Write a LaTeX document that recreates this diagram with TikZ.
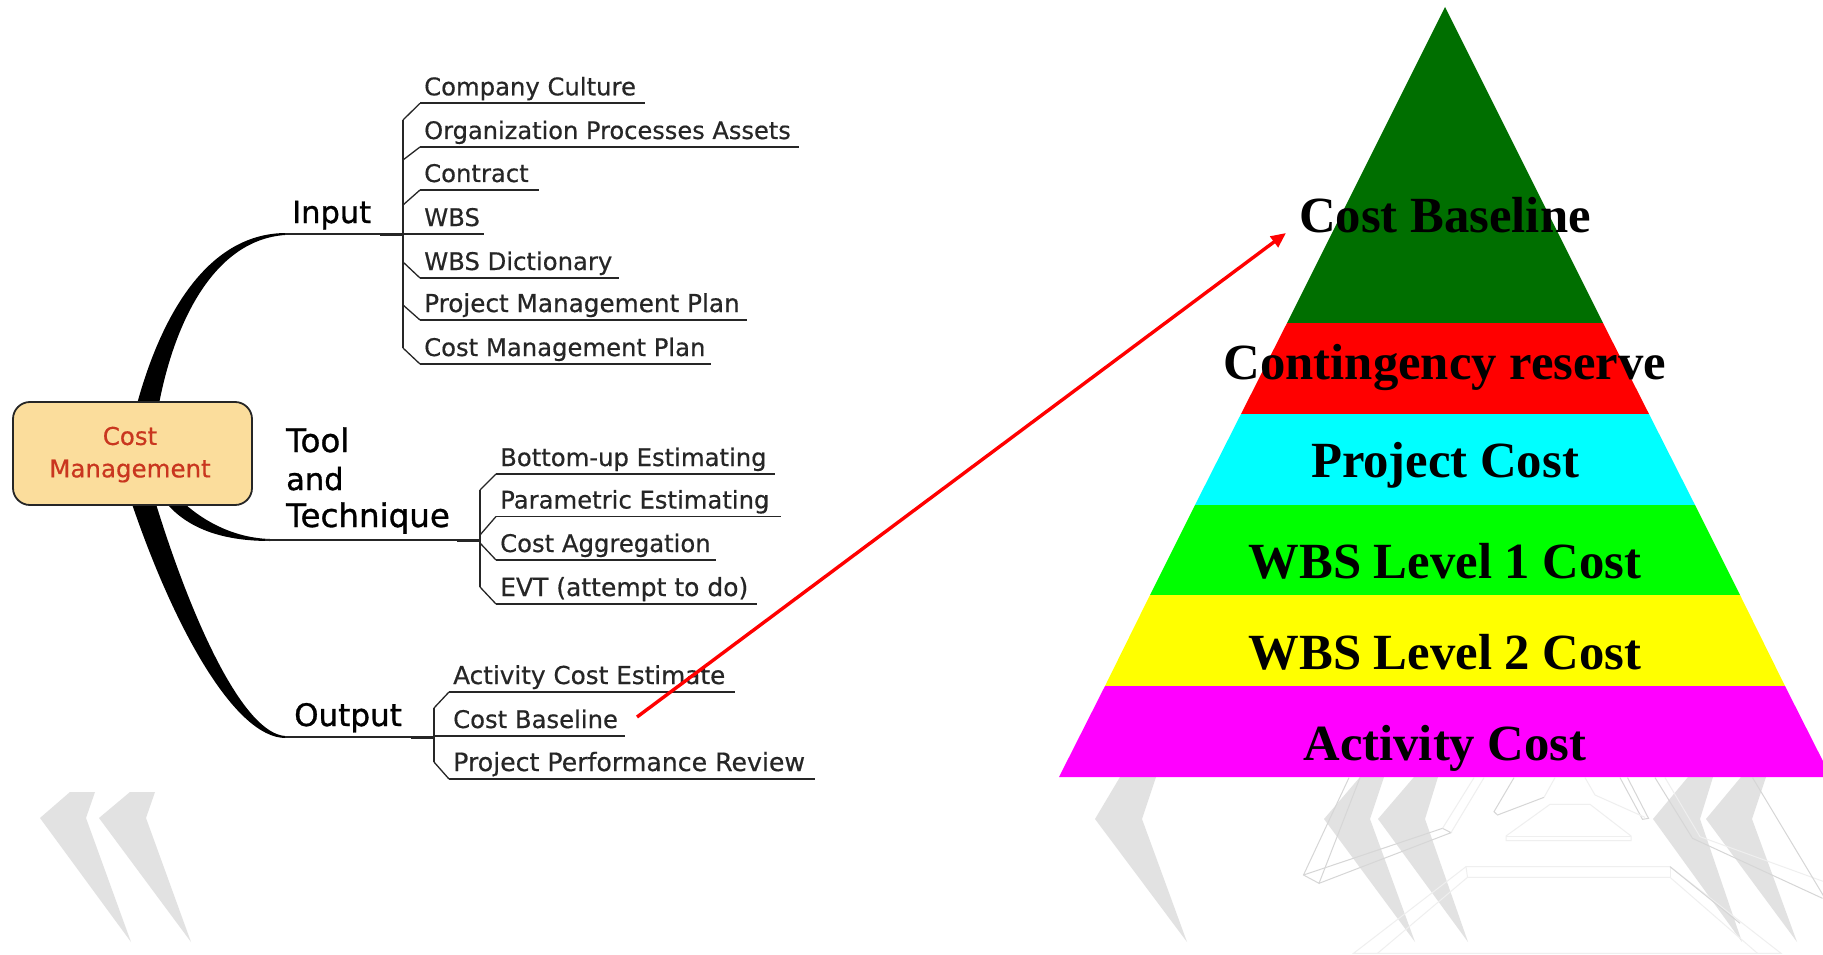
\documentclass[tikz,border=0pt]{standalone}
\usepackage{fontspec}
\setmainfont{DejaVu Sans}
\newfontfamily\semib[FakeBold=0.5]{DejaVu Sans}
\newfontfamily\semibb[FakeBold=1]{DejaVu Sans}
\newfontfamily\timesb[Ligatures=TeX]{Liberation Serif Bold}
\usetikzlibrary{arrows.meta}
\definecolor{inkc}{HTML}{262626}
\definecolor{boxfill}{HTML}{FBDD9C}
\definecolor{boxtext}{HTML}{C9361F}
\definecolor{markgray}{HTML}{E2E2E2}
\definecolor{wire}{HTML}{EFEFEF}
\definecolor{wiredark}{HTML}{D6D6D6}
\definecolor{darkgreen}{HTML}{006F00}
\definecolor{lvred}{RGB}{255,0,0}
\definecolor{lvcyan}{RGB}{0,255,255}
\definecolor{lvgreen}{RGB}{0,255,0}
\definecolor{lvyellow}{RGB}{255,255,0}
\definecolor{lvmagenta}{RGB}{255,0,255}
\tikzset{
  leaf/.style={anchor=base west,inner sep=0pt,text=inkc,font=\fontsize{24.3}{28}\semib},
  branchlabel/.style={anchor=base west,inner sep=0pt,text=black,font=\fontsize{30.5}{34}\semibb},
  uline/.style={draw=inkc,line width=1.8pt},
  spine/.style={draw=inkc,line width=1.3pt},
  heavy/.style={draw=inkc,line width=3pt},
  limb/.style={fill=black,draw=none},
  chev/.style={fill=markgray,draw=none},
  wireline/.style={draw=wire,line width=1pt},
  wiredk/.style={draw=wiredark,line width=1pt},
  level/.style={draw=none},
  levellabel/.style={text=black,inner sep=0pt,font=\fontsize{50.7}{56}\timesb},
  roottext/.style={text=boxtext,inner sep=0pt,font=\fontsize{24.5}{28}\semib},
}
\newcommand{\leafbranch}[7]{%
  \coordinate (#1-s) at (#2,#3);
  \coordinate (#1-a) at (#4,#6);
  \coordinate (#1-b) at (#5,#6);
  \node[leaf] (#1) at ([xshift=4pt,yshift=8pt]#1-a) {#7};
  \draw[uline] (#1-a) -- (#1-b);
  \draw[spine] (#1-s) -- (#1-a);
}
\newcommand{\chevron}[5]{%
  \fill[chev] (#1,819) -- (#2,777) -- (#3,777) -- (#4,819) -- (#5,942) -- cycle;
}
\begin{document}
\begin{tikzpicture}[x=1pt,y=-1pt]
\useasboundingbox (0,0) rectangle (1823,955);
\fill[white] (0,0) rectangle (1823,955);

% watermark chevrons, left
\fill[chev] (40,818) -- (70,792) -- (95,792) -- (86,818) -- (131,942) -- cycle;
\fill[chev] (99,818) -- (130,792) -- (155,792) -- (146,818) -- (191,942) -- cycle;

% watermark chevrons, right
\chevron{1095}{1120}{1156}{1142}{1187}
\chevron{1324}{1360}{1384}{1370}{1415}
\chevron{1378}{1414}{1438}{1425}{1468}
\chevron{1653}{1688}{1713}{1700}{1742}
\chevron{1706}{1741}{1766}{1752}{1797}

% watermark wire figure
\begin{scope}[shift={(1040,740)},x=0.5pt,y=-0.33333pt]
  \draw[wiredk] (640,113) -- (558,430) -- (527,405) -- (618,113);
  \draw[wiredk] (558,430) -- (822,278) -- (805,265) -- (527,405);
  \draw[wireline] (822,278) -- (888,113);
  \draw[wireline] (805,265) -- (868,113);
  \draw[wiredk] (948,113) -- (908,215) -- (915,225) -- (1008,172);
  \draw[wireline] (1008,172) -- (1030,113);
  \draw[wireline] (1020,193) -- (1100,193) -- (1182,288) -- (1182,302) -- (932,302) -- (932,288) -- (1020,193);
  \draw[wireline] (932,288) -- (1182,288);
  \draw[wiredk] (1160,113) -- (1205,238) -- (1217,235) -- (1175,113);
  \draw[wireline] (1090,113) -- (1110,165) -- (1210,232);
  \draw[wiredk] (1230,113) -- (1305,295) -- (1565,475);
  \draw[wireline] (1250,113) -- (1320,290) -- (1568,425);
  \draw[wiredk] (1425,113) -- (1568,470);
  \draw[wireline] (627,640) -- (852,380) -- (1260,380) -- (1482,640) -- cycle;
  \draw[wireline] (675,640) -- (855,412) -- (1260,412) -- (1435,640);
  \draw[wireline] (852,380) -- (855,412);
  \draw[wireline] (1260,380) -- (1260,412);
  \draw[wiredk] (1260,380) -- (1400,550);
\end{scope}

% mind map limbs
\fill[limb] (137,404) .. controls (160,320) and (205,234) .. (285,233)
  -- (285,235) .. controls (215,240) and (175,320) .. (159,404) -- cycle;
\fill[limb] (132,504) .. controls (175,630) and (235,737) .. (285,738)
  -- (285,736) .. controls (245,733) and (195,630) .. (156,504) -- cycle;
\fill[limb] (167,504) .. controls (190,530) and (225,541) .. (270,541)
  -- (270,539) .. controls (235,538) and (205,522) .. (185,504) -- cycle;

% central node
\node[draw=inkc,line width=1.8pt,fill=boxfill,rounded corners=17pt,minimum width=239pt,minimum height=103pt,inner sep=0pt] (root) at (132.5,453.5) {};
\node[roottext] (rootA) at (130,436) {Cost};
\node[roottext] (rootB) at (130,471) {Management};

% branch labels
\node[branchlabel] (input) at (292,223) {Input};
\node[branchlabel,font=\fontsize{32.5}{36}\semibb] (toolA) at (286,452) {Tool};
\node[branchlabel] (toolB) at (286,490) {and};
\node[branchlabel,font=\fontsize{32.5}{36}\semibb] (toolC) at (286,527) {Technique};
\node[branchlabel,font=\fontsize{31}{36}\semibb] (output) at (294,726) {Output};

% branch stems
\coordinate (inS) at (285,234);
\coordinate (inT) at (403,234);
\coordinate (inH) at (380,234);
\draw[uline] (inS) -- (inT);
\draw[heavy] (inH) -- (inT);
\coordinate (toS) at (265,540);
\coordinate (toT) at (480,540);
\coordinate (toH) at (457,540);
\draw[uline] (toS) -- (toT);
\draw[heavy] (toH) -- (toT);
\coordinate (ouS) at (285,737);
\coordinate (ouT) at (434,737);
\coordinate (ouH) at (411,737);
\draw[uline] (ouS) -- (ouT);
\draw[heavy] (ouH) -- (ouT);

% input leaves
\leafbranch{cc}{403}{120}{420}{645}{103.3}{Company Culture}
\leafbranch{org}{403}{160}{420}{799}{147}{\fontsize{24.1}{28}\semib Organization Processes Assets}
\leafbranch{con}{403}{205}{420}{539}{190}{Contract}
\leafbranch{wbs}{403}{234}{403}{484}{234}{\hspace{17pt}WBS}
\leafbranch{dic}{403}{262}{420}{619}{278}{WBS Dictionary}
\leafbranch{pmp}{403}{305}{420}{747}{320}{\fontsize{24.7}{28}\semib Project Management Plan}
\leafbranch{cmp}{403}{348}{420}{711}{364}{Cost Management Plan}
\draw[spine] (cc-s) -- (cmp-s);

% tool leaves
\leafbranch{bot}{480}{490}{496}{775}{474}{Bottom-up Estimating}
\leafbranch{par}{480}{535}{496}{781}{516.5}{Parametric Estimating}
\leafbranch{agg}{480}{543}{496}{716}{560}{Cost Aggregation}
\leafbranch{evt}{480}{587}{496}{757}{604}{\fontsize{25}{28}\semib EVT (attempt to do)}
\draw[spine] (bot-s) -- (evt-s);

% output leaves
\leafbranch{act}{434}{708}{449}{735}{692}{\fontsize{24.7}{28}\semib Activity Cost Estimate}
\leafbranch{bas}{434}{737}{434}{625}{736}{\hspace{15pt}Cost Baseline}
\leafbranch{rev}{434}{762}{449}{815}{779}{\fontsize{25.2}{28}\semib Project Performance Review}
\draw[spine] (act-s) -- (rev-s);

% pyramid
\fill[darkgreen,level] (1445,7) -- (1603,323) -- (1287,323) -- cycle;
\fill[lvred,level] (1287,323) -- (1603,323) -- (1649,414) -- (1241,414) -- cycle;
\fill[lvcyan,level] (1241,414) -- (1649,414) -- (1695,505) -- (1195,505) -- cycle;
\fill[lvgreen,level] (1195,505) -- (1695,505) -- (1740,595) -- (1150,595) -- cycle;
\fill[lvyellow,level] (1150,595) -- (1740,595) -- (1785,686) -- (1105,686) -- cycle;
\fill[lvmagenta,level] (1105,686) -- (1785,686) -- (1831,777) -- (1059,777) -- cycle;

\node[levellabel] (L1) at (1445,215) {Cost Baseline};
\node[levellabel] (L2) at (1445,368) {Contingency reserve};
\node[levellabel] (L3) at (1445,465) {Project Cost};
\node[levellabel] (L4) at (1445,561) {WBS Level 1 Cost};
\node[levellabel] (L5) at (1445,652) {WBS Level 2 Cost};
\node[levellabel] (L6) at (1445,748) {Activity Cost};

% red arrow
\coordinate (arrA) at (637,717);
\coordinate (arrB) at (1286,233);
\draw[lvred,line width=3.4pt,-{Triangle[length=15pt,width=13pt]}] (arrA) -- (arrB);
\end{tikzpicture}
\end{document}
